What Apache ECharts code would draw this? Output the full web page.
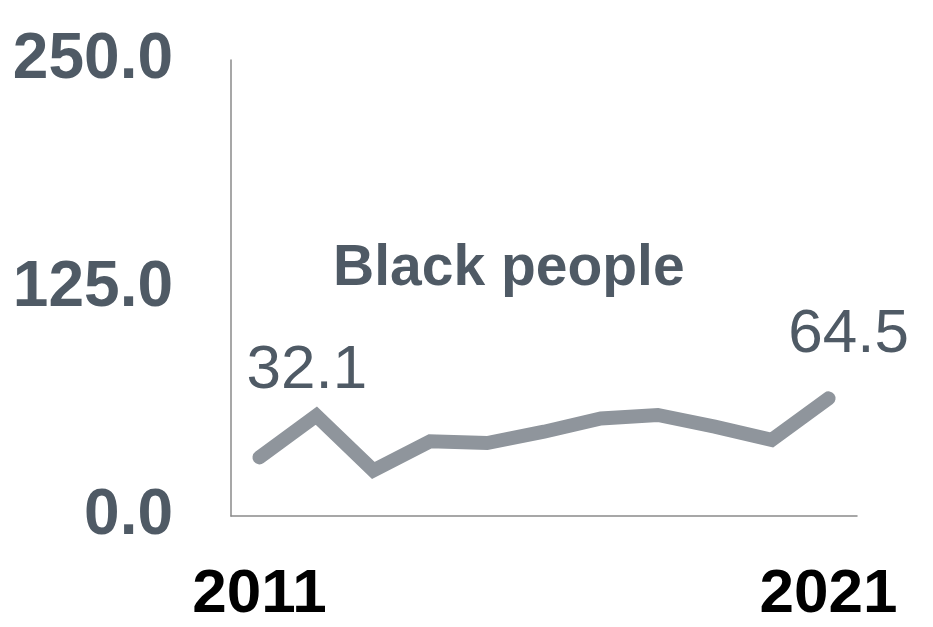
<!DOCTYPE html>
<html>
<head>
<meta charset="utf-8">
<script src="https://cdn.jsdelivr.net/npm/echarts@6/dist/echarts.min.js"></script>
<style>
    html, body { margin: 0; padding: 0; background: #fff; }
    #chart { width: 933px; height: 627px; }
</style>
</head>
<body>
<div id="chart"></div>
<script>
    // 数据
    const years = ['2011', '2012', '2013', '2014', '2015', '2016', '2017', '2018', '2019', '2020', '2021']
    const values = [32.1, 55, 25, 41, 40, 46.2, 53.5, 55.4, 49, 41.7, 64.5]
    const yTicks = [0, 125, 250]
    const seriesName = 'Black people'

    const textColor = '#4f5a65'
    const fontFamily = '"Liberation Sans", Arial, sans-serif'

    const chart = echarts.init(document.getElementById('chart'))

    const lastIndex = values.length - 1
    const seriesData = values.map(function (v, i) {
        if (i === 0) {
            return {
                value: v,
                label: { show: true, position: 'top', align: 'left', offset: [-13, -51] }
            }
        }
        if (i === lastIndex) {
            return {
                value: v,
                label: { show: true, position: 'top', align: 'center', offset: [20, -27] }
            }
        }
        return v
    })

    const option = {
        animation: false,
        title: {
            text: seriesName,
            left: 328,
            top: 236,
            textStyle: {
                color: textColor,
                fontFamily: fontFamily,
                fontWeight: 'bold',
                fontSize: 57
            }
        },
        grid: {
            left: 231,
            right: 76,
            top: 60,
            bottom: 111
        },
        xAxis: {
            type: 'category',
            data: years,
            boundaryGap: true,
            axisTick: { show: false },
            axisLine: { lineStyle: { color: '#8a8a8a', width: 1.5 } },
            axisLabel: {
                interval: 0,
                margin: 48,
                color: '#000',
                fontFamily: fontFamily,
                fontWeight: 'bold',
                fontSize: 62,
                formatter: function (val, idx) {
                    return (idx === 0 || idx === lastIndex) ? val : ''
                }
            }
        },
        yAxis: {
            type: 'value',
            min: yTicks[0],
            max: yTicks[yTicks.length - 1],
            interval: yTicks[1] - yTicks[0],
            splitLine: { show: false },
            axisTick: { show: false },
            axisLine: { show: true, lineStyle: { color: '#8a8a8a', width: 1.5 } },
            axisLabel: {
                margin: 58,
                color: textColor,
                fontFamily: fontFamily,
                fontWeight: 'bold',
                fontSize: 64,
                formatter: function (v) { return v.toFixed(1) }
            }
        },
        series: [
            {
                name: seriesName,
                type: 'line',
                data: seriesData,
                symbol: 'circle',
                symbolSize: 0,
                showSymbol: true,
                itemStyle: { color: '#8f959c' },
                lineStyle: { color: '#8f959c', width: 14, cap: 'round', join: 'miter' },
                label: {
                    show: false,
                    color: textColor,
                    fontFamily: fontFamily,
                    fontSize: 62,
                    verticalAlign: 'bottom',
                    formatter: function (p) { return p.value.toFixed(1) }
                }
            }
        ]
    }

    option && chart.setOption(option)
</script>
</body>
</html>
